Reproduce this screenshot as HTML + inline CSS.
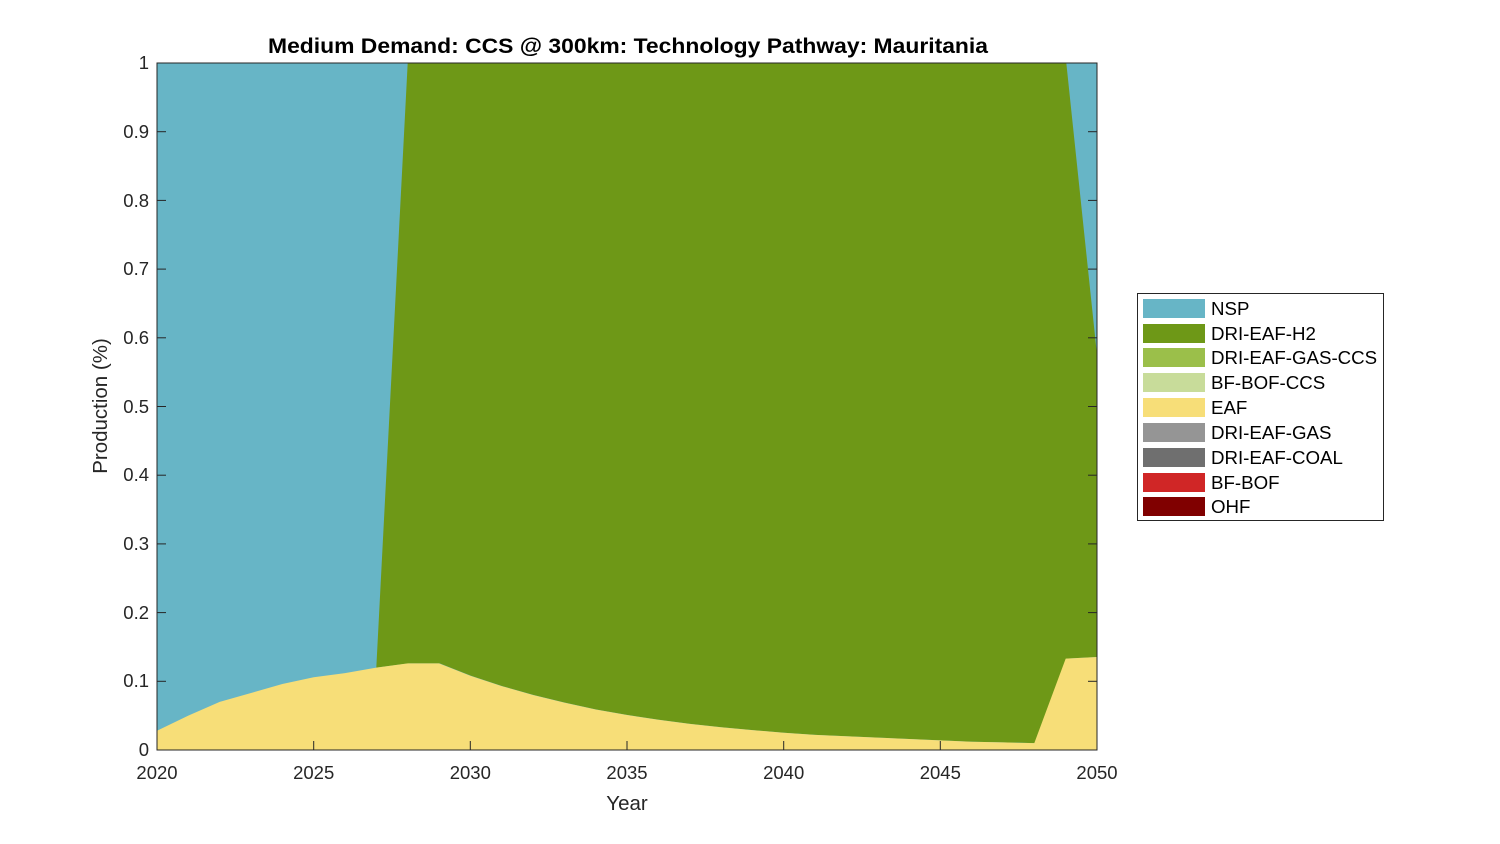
<!DOCTYPE html>
<html><head><style>body{margin:0;background:#fff}svg{display:block}text{font-family:"Liberation Sans",Arial,sans-serif}</style></head><body>
<svg width="1500" height="844" xmlns="http://www.w3.org/2000/svg">
<rect x="157" y="63" width="940" height="687" fill="#67b5c6"/>
<polygon fill="#6e9817" points="376.3,667.6 407.7,63 1066.3,63 1097,355 1097,657 1066.3,658.6 1035,743.1 1003.7,742.4 972.3,741.8 941,740.4 909.7,739 878.3,737.6 847,736.3 815.7,734.9 784.3,732.8 753,730.1 721.7,727.3 690.3,723.9 659,719.8 627.7,715 596.3,709.5 565,702.6 533.7,695 502.3,686.1 471,675.8 439.7,663.4 408.7,663.4"/>
<polygon fill="#f7de78" points="157,750 157,730.8 188.3,715.6 219.7,701.9 251,693 282.3,684 313.7,677.2 345,673.1 376.3,667.6 407.7,663.4 439,663.4 470.3,675.8 501.7,686.1 533,695 564.3,702.6 595.7,709.5 627,715 658.3,719.8 689.7,723.9 721,727.3 752.3,730.1 783.7,732.8 815,734.9 846.3,736.3 877.7,737.6 909,739 940.3,740.4 971.7,741.8 1003,742.4 1034.3,743.1 1065.7,658.6 1097,657 1097,750"/>
<rect x="157" y="63" width="940" height="687" fill="none" stroke="#262626" stroke-width="1"/>
<g stroke="#262626" stroke-width="1">
<line x1="157" y1="750" x2="157" y2="741"/><line x1="313.7" y1="750" x2="313.7" y2="741"/><line x1="470.3" y1="750" x2="470.3" y2="741"/><line x1="627" y1="750" x2="627" y2="741"/><line x1="783.7" y1="750" x2="783.7" y2="741"/><line x1="940.3" y1="750" x2="940.3" y2="741"/>
<line x1="157" y1="681.3" x2="166" y2="681.3"/><line x1="157" y1="612.6" x2="166" y2="612.6"/><line x1="157" y1="543.9" x2="166" y2="543.9"/><line x1="157" y1="475.2" x2="166" y2="475.2"/><line x1="157" y1="406.5" x2="166" y2="406.5"/><line x1="157" y1="337.8" x2="166" y2="337.8"/><line x1="157" y1="269.1" x2="166" y2="269.1"/><line x1="157" y1="200.4" x2="166" y2="200.4"/><line x1="157" y1="131.7" x2="166" y2="131.7"/>
<line x1="1097" y1="681.3" x2="1088" y2="681.3"/><line x1="1097" y1="612.6" x2="1088" y2="612.6"/><line x1="1097" y1="543.9" x2="1088" y2="543.9"/><line x1="1097" y1="475.2" x2="1088" y2="475.2"/><line x1="1097" y1="406.5" x2="1088" y2="406.5"/><line x1="1097" y1="337.8" x2="1088" y2="337.8"/><line x1="1097" y1="269.1" x2="1088" y2="269.1"/><line x1="1097" y1="200.4" x2="1088" y2="200.4"/><line x1="1097" y1="131.7" x2="1088" y2="131.7"/>
</g>
<g font-size="18.5" fill="#262626" text-anchor="middle">
<text x="157" y="779">2020</text><text x="313.7" y="779">2025</text><text x="470.3" y="779">2030</text><text x="627" y="779">2035</text><text x="783.7" y="779">2040</text><text x="940.3" y="779">2045</text><text x="1097" y="779">2050</text>
</g>
<g font-size="18.5" fill="#262626" text-anchor="end">
<text x="149" y="756">0</text><text x="149" y="687">0.1</text><text x="149" y="619">0.2</text><text x="149" y="550">0.3</text><text x="149" y="481">0.4</text><text x="149" y="413">0.5</text><text x="149" y="344">0.6</text><text x="149" y="275">0.7</text><text x="149" y="207">0.8</text><text x="149" y="138">0.9</text><text x="149" y="69">1</text>
</g>
<text x="627" y="810" font-size="20.5" fill="#262626" text-anchor="middle">Year</text>
<text x="107" y="406" font-size="20.5" fill="#262626" text-anchor="middle" transform="rotate(-90 107 406)">Production (%)</text>
<text x="268" y="53" font-size="21" font-weight="bold" fill="#000" textLength="720" lengthAdjust="spacingAndGlyphs">Medium Demand: CCS @ 300km: Technology Pathway: Mauritania</text>
<rect x="1137.5" y="293.5" width="246" height="227" fill="#fff" stroke="#262626"/>
<g font-size="18.7" fill="#000">
<rect x="1143" y="299" width="62" height="19" fill="#67b5c6"/><text x="1211" y="315">NSP</text>
<rect x="1143" y="324" width="62" height="19" fill="#6e9817"/><text x="1211" y="340">DRI-EAF-H2</text>
<rect x="1143" y="348" width="62" height="19" fill="#9bbf4a"/><text x="1211" y="364">DRI-EAF-GAS-CCS</text>
<rect x="1143" y="373" width="62" height="19" fill="#c8dc9a"/><text x="1211" y="389">BF-BOF-CCS</text>
<rect x="1143" y="398" width="62" height="19" fill="#f7de78"/><text x="1211" y="414">EAF</text>
<rect x="1143" y="423" width="62" height="19" fill="#959595"/><text x="1211" y="439">DRI-EAF-GAS</text>
<rect x="1143" y="448" width="62" height="19" fill="#6f6f6f"/><text x="1211" y="464">DRI-EAF-COAL</text>
<rect x="1143" y="473" width="62" height="19" fill="#d02626"/><text x="1211" y="489">BF-BOF</text>
<rect x="1143" y="497" width="62" height="19" fill="#800000"/><text x="1211" y="513">OHF</text>
</g>
</svg>
</body></html>
